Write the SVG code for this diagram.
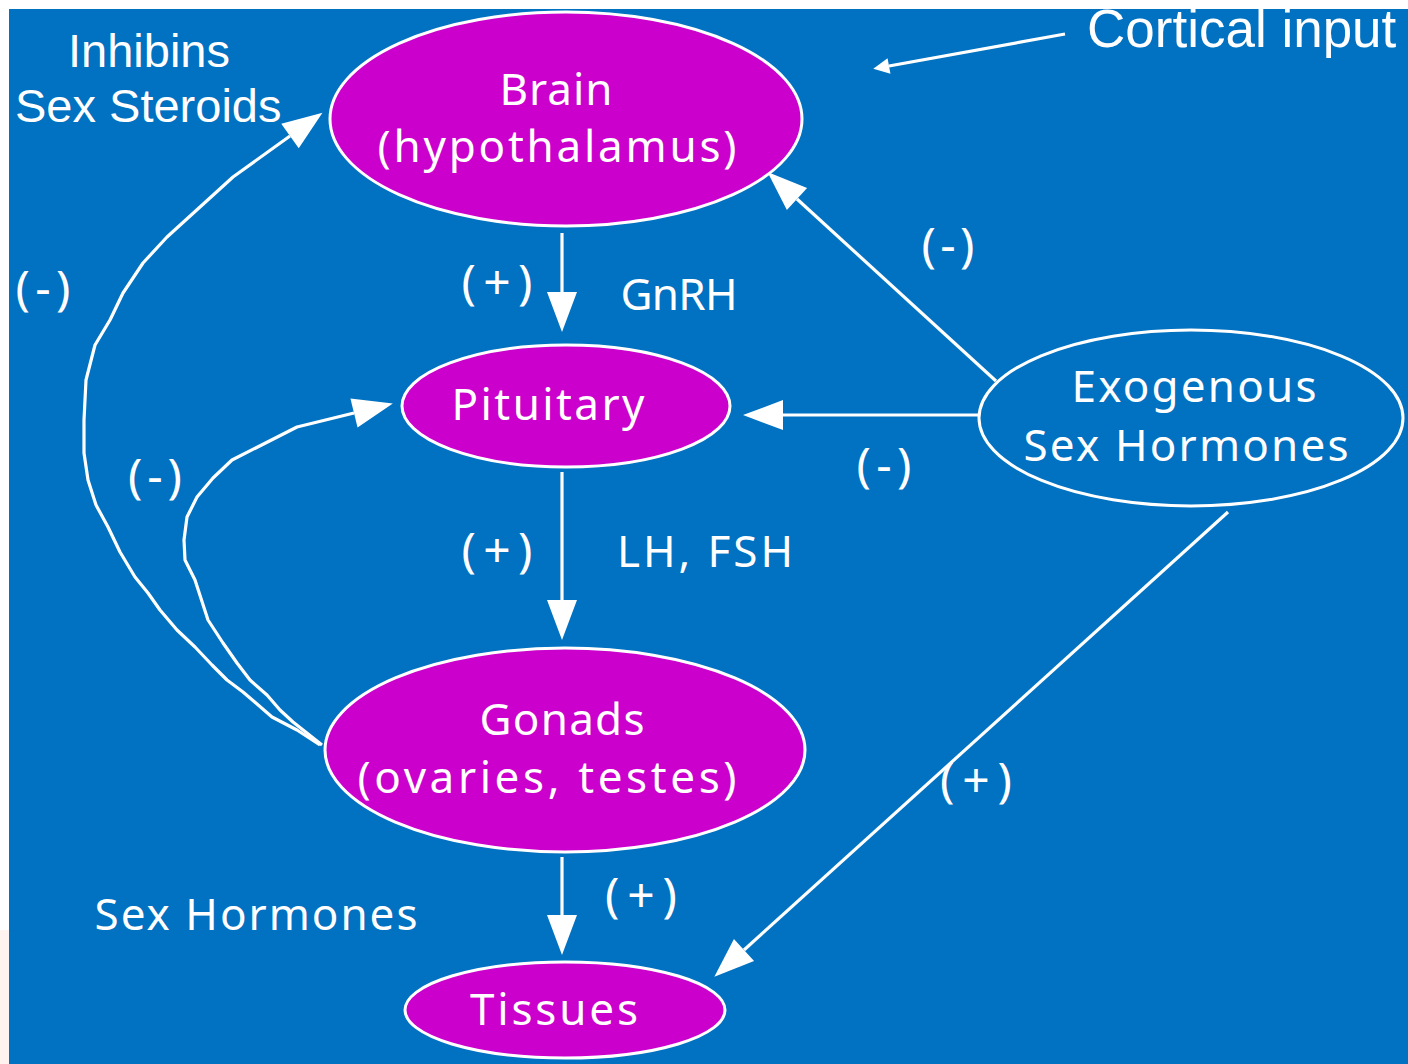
<svg xmlns="http://www.w3.org/2000/svg" width="1408" height="1064" viewBox="0 0 1408 1064">
<style>
.bg{fill:#0171C1}
.node{fill:#CC00CC;stroke:#fff;stroke-width:3}
.exo{fill:none;stroke:#fff;stroke-width:3}
.t{font-family:"Noto Sans","DejaVu Sans",sans-serif;font-size:44px;fill:#fff;text-anchor:middle}
.s{font-size:48px}
.a{font-family:"Liberation Sans",Arial,sans-serif;fill:#fff}
.c{fill:none;stroke:#fff;stroke-width:3.2;stroke-linejoin:round}
</style>
<defs>
<marker id="ah" markerUnits="userSpaceOnUse" markerWidth="40" markerHeight="30" viewBox="0 0 40 30" refX="0" refY="15" orient="auto" overflow="visible">
<path d="M0,0 L40,15 L0,30 Z" fill="#fff"/>
</marker>
<marker id="ahs" markerUnits="userSpaceOnUse" markerWidth="16" markerHeight="16" viewBox="0 0 16 16" refX="0" refY="8" orient="auto" overflow="visible">
<path d="M0,0 L16,8 L0,16 Z" fill="#fff"/>
</marker>
</defs>
<rect x="0" y="0" width="1408" height="1064" fill="#fff"/>
<rect x="0" y="930" width="9" height="134" fill="#FFF2EF"/>
<rect class="bg" x="9" y="9" width="1399" height="1055"/>

<g id="connectors">
<line class="c" x1="562" y1="233" x2="562" y2="292" marker-end="url(#ah)"/>
<line class="c" x1="562" y1="472" x2="562" y2="600" marker-end="url(#ah)"/>
<line class="c" x1="562" y1="857" x2="562" y2="915" marker-end="url(#ah)"/>
<line class="c" x1="996" y1="381" x2="797" y2="199" marker-end="url(#ah)"/>
<line class="c" x1="978" y1="415" x2="783" y2="415" marker-end="url(#ah)"/>
<line class="c" x1="1228" y1="512" x2="744" y2="950" marker-end="url(#ah)"/>
<line class="c" x1="1065" y1="34" x2="889" y2="66" marker-end="url(#ahs)"/>
<polyline class="c" points="320,745 297,730 272,717 243,692 227,680 212,665 195,647 177,630 160,610 148,593 135,577 120,552 108,527 96,505 88,480 84,453 84,420 86,380 95,345 110,320 123,293 143,263 167,237 200,207 233,177 290,136" marker-end="url(#ah)"/>
<polyline class="c" points="322,745 293,722 280,710 267,695 250,680 237,663 223,643 208,620 195,580 185,560 184,540 187,517 197,497 213,478 232,460 297,427 354,413" marker-end="url(#ah)"/>
</g>

<g id="brain">
<ellipse class="node" cx="566" cy="119" rx="236" ry="107"/>
<text class="t" x="556" y="105" textLength="113" lengthAdjust="spacing">Brain</text>
<text class="t" x="557" y="162" textLength="359" lengthAdjust="spacing">(hypothalamus)</text>
</g>
<g id="pituitary">
<ellipse class="node" cx="566" cy="406" rx="164" ry="61"/>
<text class="t" x="548" y="420" textLength="193" lengthAdjust="spacing">Pituitary</text>
</g>
<g id="gonads">
<ellipse class="node" cx="565" cy="750" rx="240" ry="102"/>
<text class="t" x="562" y="735" textLength="165" lengthAdjust="spacing">Gonads</text>
<text class="t" x="547" y="793" textLength="379" lengthAdjust="spacing">(ovaries, testes)</text>
</g>
<g id="tissues">
<ellipse class="node" cx="565" cy="1010" rx="160" ry="48"/>
<text class="t" x="554" y="1025" textLength="168" lengthAdjust="spacing">Tissues</text>
</g>
<g id="exogenous">
<ellipse class="exo" cx="1191" cy="418" rx="212" ry="88"/>
<text class="t" x="1194" y="402" textLength="245" lengthAdjust="spacing">Exogenous</text>
<text class="t" x="1186" y="461" textLength="325" lengthAdjust="spacing">Sex Hormones</text>
</g>

<g id="labels">
<text class="t s" x="497" y="299" textLength="71" lengthAdjust="spacing">(+)</text>
<text class="t" x="679" y="310" textLength="117" lengthAdjust="spacing">GnRH</text>
<text class="t s" x="497" y="567" textLength="71" lengthAdjust="spacing">(+)</text>
<text class="t" x="705" y="567" textLength="176" lengthAdjust="spacing">LH, FSH</text>
<text class="t s" x="641" y="912" textLength="72" lengthAdjust="spacing">(+)</text>
<text class="t s" x="976" y="797" textLength="72" lengthAdjust="spacing">(+)</text>
<text class="t s" x="948" y="262" textLength="53" lengthAdjust="spacing">(-)</text>
<text class="t s" x="884" y="482" textLength="55" lengthAdjust="spacing">(-)</text>
<text class="t s" x="43" y="305" textLength="55" lengthAdjust="spacing">(-)</text>
<text class="t s" x="155" y="493" textLength="54" lengthAdjust="spacing">(-)</text>
<text class="t" x="256" y="930" textLength="323" lengthAdjust="spacing">Sex Hormones</text>
<text class="a" x="68" y="67" font-size="47">Inhibins</text>
<text class="a" x="15" y="122" font-size="47">Sex Steroids</text>
<text class="a" x="1087" y="47" font-size="53">Cortical input</text>
</g>
</svg>
